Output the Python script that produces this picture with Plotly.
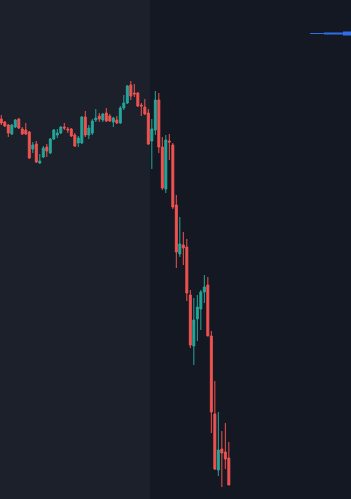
import plotly.graph_objects as go

# Candle index (bar number) and OHLC prices
bars = list(range(66))
opens = [381, 378, 375, 366, 373, 381, 371, 370, 368, 351, 356, 337, 343, 353, 347, 361, 365, 367, 373, 371,
         371, 365, 357, 357, 383, 365, 367, 380, 384, 380, 387, 384, 378, 380, 377, 392, 397, 415, 407, 407,
         395, 393, 387, 359, 370, 400, 353, 311, 359, 355, 295, 246, 255, 253, 205, 154, 181, 191, 208, 215,
         164, 86, 30, 51, 48, 42]
highs = [385, 379, 376, 376, 381, 382, 373, 377, 369, 358, 359, 346, 354, 356, 362, 371, 371, 374, 377, 373,
         372, 367, 364, 384, 389, 375, 381, 391, 387, 387, 392, 386, 383, 384, 394, 405, 415, 419, 416, 408,
         397, 401, 391, 381, 409, 407, 363, 365, 366, 357, 305, 283, 268, 261, 210, 202, 205, 210, 225, 223,
         169, 119, 88, 69, 77, 58]
lows = [375, 373, 363, 365, 372, 371, 365, 365, 341, 347, 337, 336, 342, 343, 346, 360, 362, 366, 370, 367,
        363, 353, 353, 356, 363, 361, 365, 378, 378, 378, 378, 378, 373, 376, 376, 390, 396, 400, 403, 393,
        384, 385, 355, 331, 365, 347, 310, 307, 340, 291, 232, 243, 235, 199, 152, 135, 159, 170, 197, 164,
        67, 30, 24, 13, 31, 15]
closes = [377, 374, 367, 375, 380, 372, 366, 366, 342, 355, 338, 339, 352, 349, 361, 370, 367, 373, 372, 370,
          364, 354, 362, 383, 365, 372, 379, 382, 381, 386, 379, 379, 382, 377, 392, 397, 414, 404, 406, 394,
          394, 386, 356, 371, 400, 353, 312, 360, 358, 293, 248, 256, 252, 207, 155, 180, 193, 208, 213, 164,
          88, 31, 50, 47, 41, 15]

# Blue marker line at the top right (bar positions, price, line width)
marker_x = [[88.2, 92.2], [92.2, 97.6], [97.6, 100.0]]
marker_price = 466.5
marker_widths = [1, 2, 4]

# Highlighted session ends between bar 42 and bar 43
session_end = 42.5

x_range = [-0.37, 99.9]
y_range = [1, 500]

fig = go.Figure()
fig.add_trace(go.Candlestick(
    x=bars, open=opens, high=highs, low=lows, close=closes,
    increasing=dict(line=dict(color="#26a69a", width=1), fillcolor="#26a69a"),
    decreasing=dict(line=dict(color="#ef5350", width=1), fillcolor="#ef5350"),
    whiskerwidth=0, showlegend=False, hoverinfo="skip",
))
for xs, w in zip(marker_x, marker_widths):
    fig.add_trace(go.Scatter(x=xs, y=[marker_price, marker_price], mode="lines",
                             line=dict(color="#2e6fe8", width=w), showlegend=False, hoverinfo="skip"))

fig.add_shape(type="rect", xref="x", yref="paper", x0=x_range[0], x1=session_end, y0=0, y1=1,
              fillcolor="#1c202b", line=dict(width=0), layer="below")

fig.update_layout(
    width=351, height=499,
    margin=dict(l=0, r=0, t=0, b=0),
    paper_bgcolor="#141822", plot_bgcolor="#141822",
    xaxis=dict(range=x_range, visible=False, rangeslider=dict(visible=False), fixedrange=True),
    yaxis=dict(range=y_range, visible=False, fixedrange=True),
    boxgap=0.2,
)
fig.write_html("out.html")
